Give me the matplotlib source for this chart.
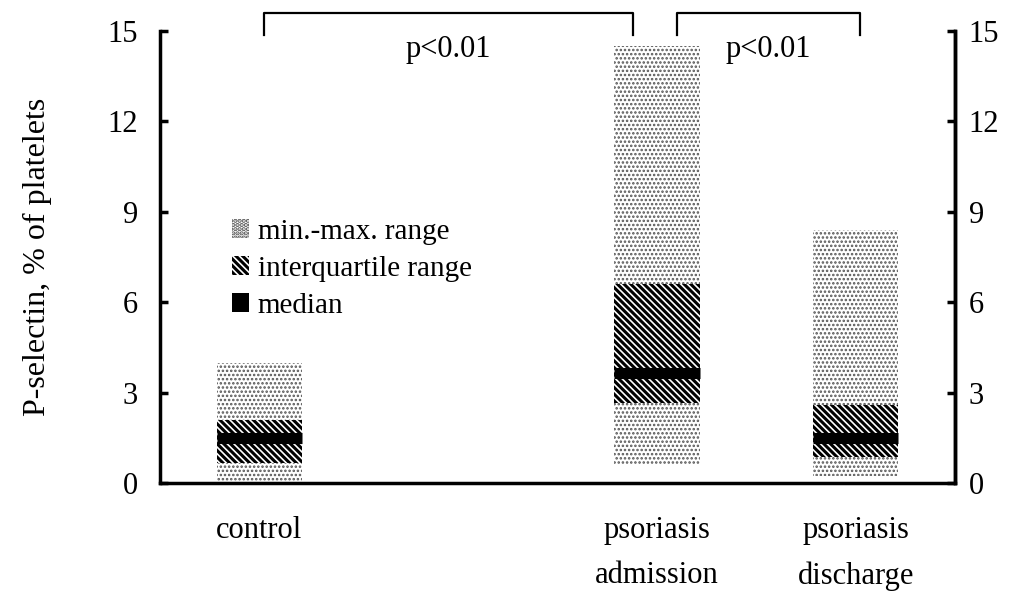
import matplotlib
matplotlib.use('Agg')
import numpy as np
from matplotlib import pyplot as plt
from matplotlib.patches import Patch

plt.rcParams['font.family'] = ['Liberation Serif', 'DejaVu Serif']
plt.rcParams['font.size'] = 22

groups = ['control', 'psoriasis\nadmission', 'psoriasis\ndischarge']
xpos = np.array([0, 2, 3])
vmin = np.array([0.0, 0.6, 0.25])
vmax = np.array([4.0, 14.5, 8.4])
q1 = np.array([0.65, 2.65, 0.85])
q3 = np.array([2.1, 6.6, 2.6])
median = np.array([1.5, 3.65, 1.5])
yticks = [0, 3, 6, 9, 12, 15]

DOTS = '....'
STRIPES = '\\' * 5
width = 0.43
fig = plt.figure(figsize=(10.17, 5.92), dpi=100)
ax = fig.add_axes([0.1573, 0.184, 0.7817, 0.7636])

def hatched_bars(bottom, top, hatch, color, lw):
    bars = ax.bar(xpos, top - bottom, width, bottom=bottom, color='white',
                  edgecolor=color, linewidth=0, hatch=hatch, zorder=2)
    for b in bars:
        if hasattr(b, 'set_hatch_linewidth'):
            b.set_hatch_linewidth(lw)
    return bars

plt.rcParams['hatch.linewidth'] = 1.2
hatched_bars(vmin, vmax, DOTS, '#555555', 1.2)
plt.rcParams['hatch.linewidth'] = 2.2
hatched_bars(q1, q3, STRIPES, 'black', 2.2)
ax.hlines(median, xpos - width / 2, xpos + width / 2, colors='black',
          linewidth=8, capstyle='butt', zorder=3)

ax.set_xlim(-0.5, 3.5)
ax.set_ylim(0, 15)
ax.set_yticks(yticks)
ax.set_xticks(xpos)
ax.set_xticklabels(groups, linespacing=1.72)
ax.tick_params(axis='x', length=0, pad=24)
ax.tick_params(axis='y', direction='in', length=6, width=2.5, pad=16)

# right-hand copy of the y axis, labels a bit closer to the spine
sec = ax.secondary_yaxis('right')
sec.set_yticks(yticks)
sec.tick_params(direction='in', length=6, width=2.5, pad=10)
sec.spines['right'].set_linewidth(2.5)

for side in ['left', 'right', 'bottom']:
    ax.spines[side].set_linewidth(2.5)
ax.spines['top'].set_visible(False)
ax.set_ylabel('P-selectin, % of platelets', labelpad=40, fontsize=23)

# significance brackets
brackets = [(0.025, 1.88), (2.10, 3.02)]
for x0, x1 in brackets:
    ax.plot([x0, x0, x1, x1], [14.88, 15.6, 15.6, 14.88], color='black',
            linewidth=1.6, clip_on=False)
    ax.text((x0 + x1) / 2, 14.4, 'p<0.01', ha='center', va='center')

handles = [
    Patch(facecolor='white', edgecolor='#555555', linewidth=0, hatch=DOTS),
    Patch(facecolor='white', edgecolor='black', linewidth=0, hatch=STRIPES),
    Patch(facecolor='black', edgecolor='black', linewidth=0),
]
ax.legend(handles, ['min.-max. range', 'interquartile range', 'median'],
          loc='upper left', bbox_to_anchor=(0.09, 0.585), frameon=False,
          fontsize=21, borderpad=0, borderaxespad=0, handlelength=0.6,
          handleheight=0.6, handletextpad=0.3, labelspacing=0.38)

fig.savefig('out.png', dpi=100)
